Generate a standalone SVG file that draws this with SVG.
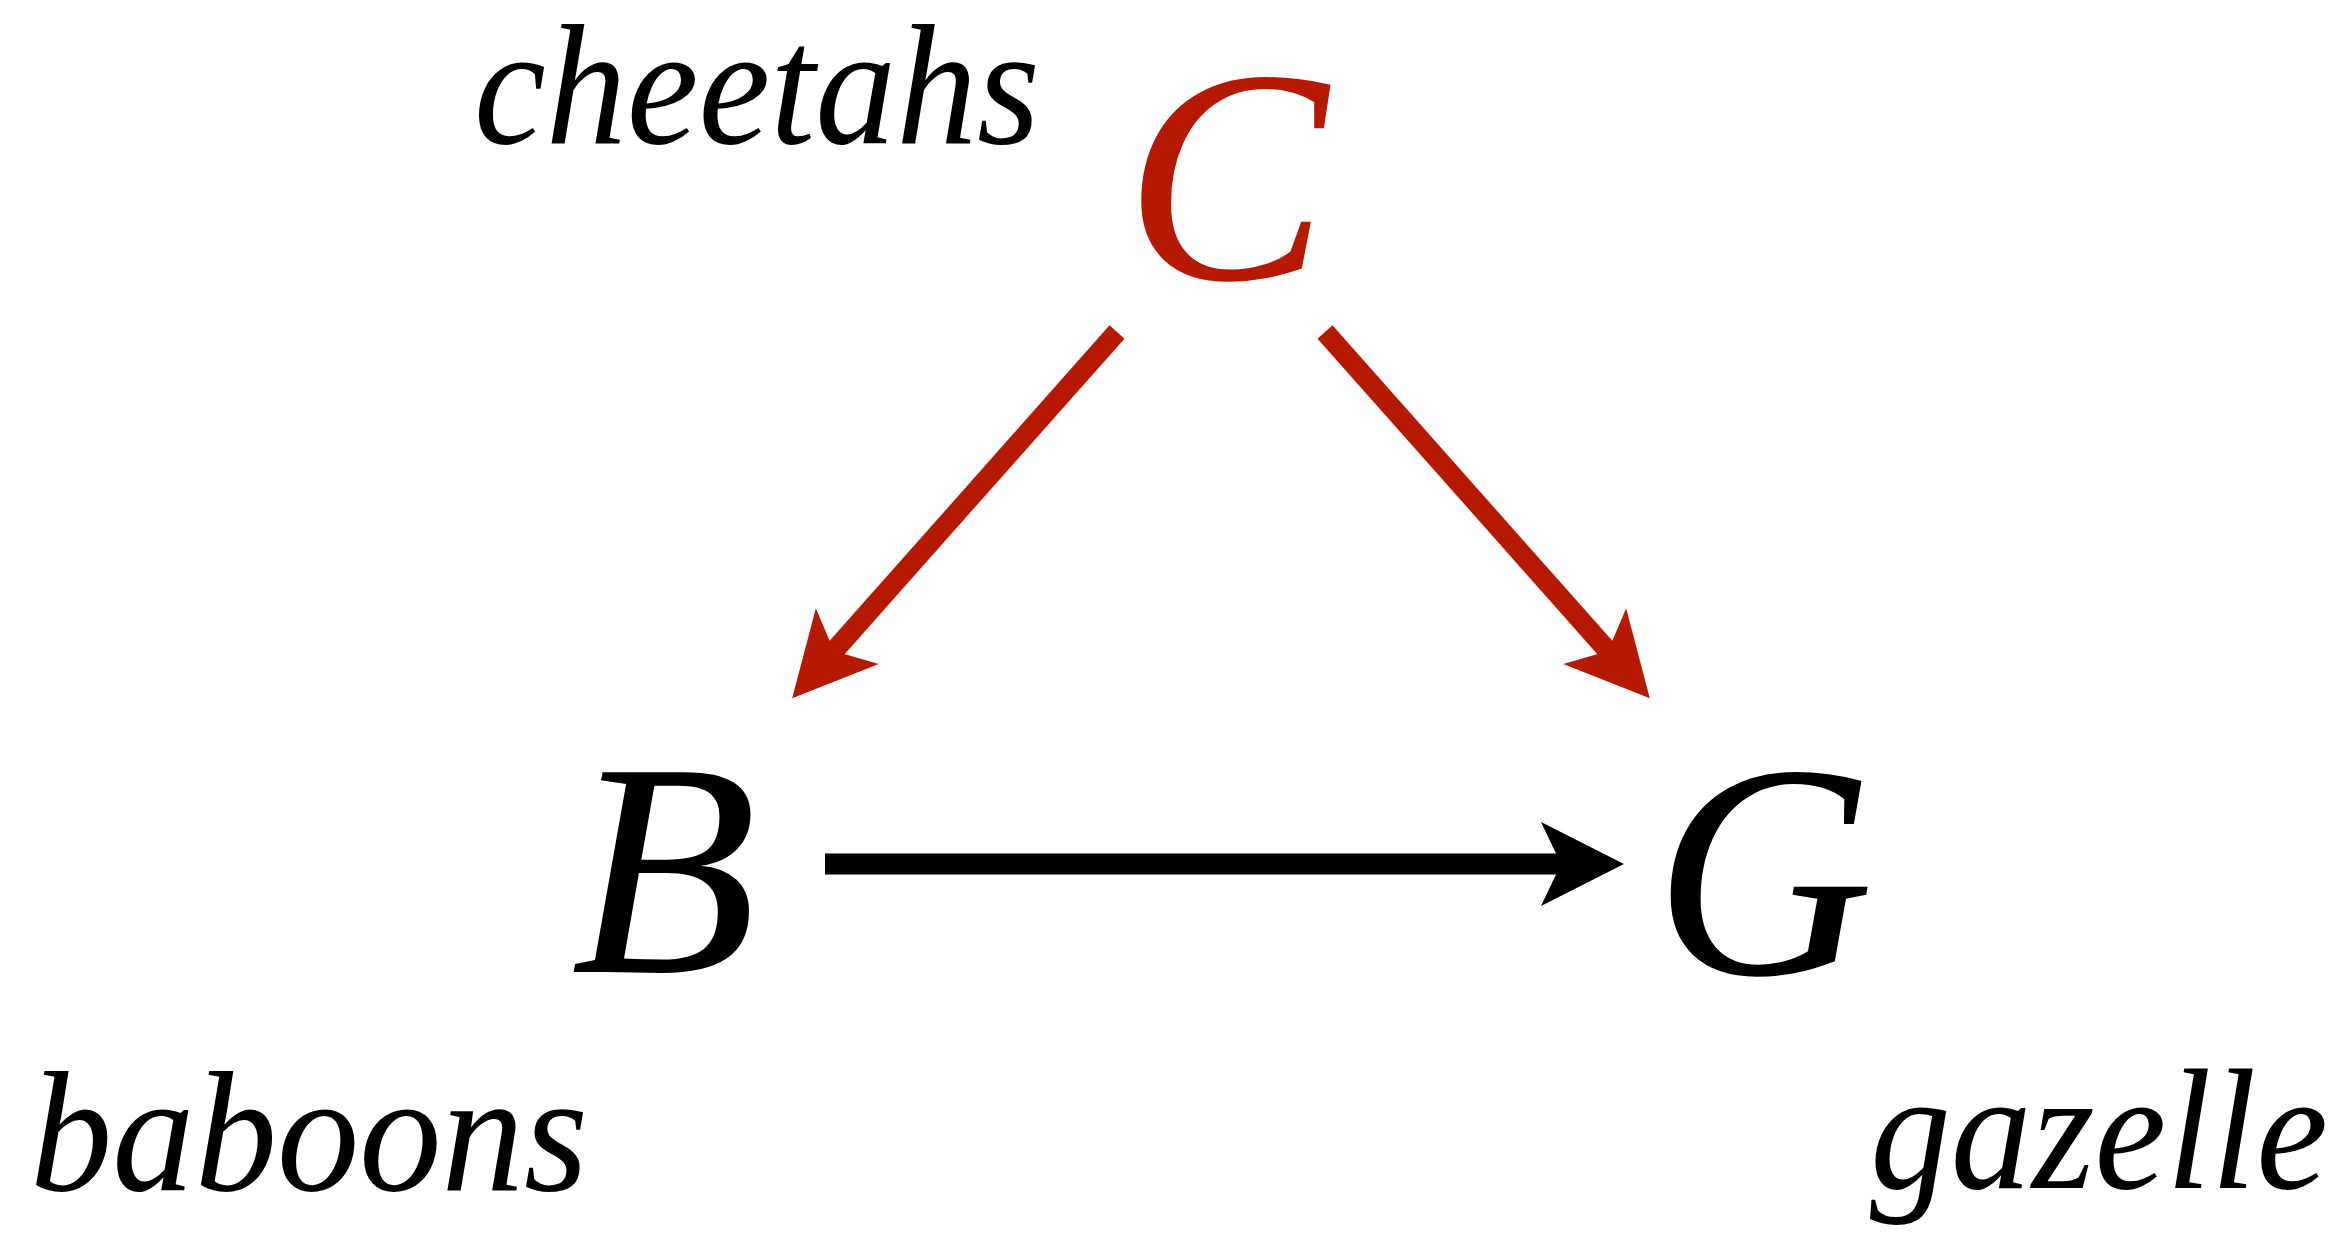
<svg xmlns="http://www.w3.org/2000/svg" width="2350" height="1237" viewBox="0 0 2350 1237">
<style>
.var{font-family:"Liberation Serif","Times New Roman",serif;font-style:italic;font-size:305px;text-anchor:middle}
.lbl{font-family:"Liberation Serif","Times New Roman",serif;font-style:italic;font-size:172px;fill:#000}
.red{fill:#b51a00}
.blk{fill:#000}
</style>
<defs>
<marker id="ahRed" markerUnits="userSpaceOnUse" markerWidth="90" markerHeight="90" viewBox="0 -45 90 90" refX="20" refY="0" orient="auto">
<path d="M0,-42 L83,0 L0,42 L20,0 Z" fill="#b51a00"/>
</marker>
<marker id="ahBlk" markerUnits="userSpaceOnUse" markerWidth="90" markerHeight="90" viewBox="0 -45 90 90" refX="20" refY="0" orient="auto">
<path d="M0,-42 L83,0 L0,42 L20,0 Z" fill="#000"/>
</marker>
</defs>
<rect width="2350" height="1237" fill="#fff"/>
<g id="connectors">
<line x1="1117" y1="332" x2="834" y2="651" stroke="#b51a00" stroke-width="20" marker-end="url(#ahRed)"/>
<line x1="1325" y1="332" x2="1608" y2="651" stroke="#b51a00" stroke-width="20" marker-end="url(#ahRed)"/>
<line x1="825" y1="864" x2="1561" y2="864" stroke="#000" stroke-width="21" marker-end="url(#ahBlk)"/>
</g>
<g id="node-C">
<text class="var red" x="1226" y="279">C</text>
<text class="lbl" x="474" y="143" textLength="566" lengthAdjust="spacingAndGlyphs">cheetahs</text>
</g>
<g id="node-B">
<text class="var blk" x="664" y="972">B</text>
<text class="lbl" x="30" y="1190" textLength="558" lengthAdjust="spacingAndGlyphs">baboons</text>
</g>
<g id="node-G">
<text class="var blk" x="1764" y="974">G</text>
<text class="lbl" x="1870" y="1188" textLength="458" lengthAdjust="spacingAndGlyphs">gazelle</text>
</g>
</svg>
